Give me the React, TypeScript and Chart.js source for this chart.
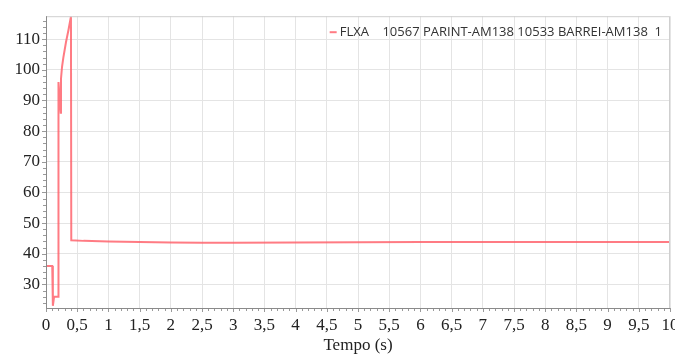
import React, { useEffect, useRef } from "react";
import { Chart, registerables } from "chart.js";

Chart.register(...registerables);

const seriesLabel = "FLXA    10567 PARINT-AM138 10533 BARREI-AM138  1";
const timeValues = [0, 0.1, 0.11, 0.13, 0.198, 0.2, 0.236, 0.24, 0.257, 0.278, 0.32, 0.36, 0.4, 0.405, 0.6, 1, 1.5, 2, 2.5, 3, 4, 5, 6, 7, 8, 9, 10];
const flowValues = [36, 36, 23, 26, 26, 96, 86, 97, 101, 104, 109, 113, 117.4, 44.4, 44.2, 44.0, 43.8, 43.7, 43.6, 43.6, 43.7, 43.75, 43.8, 43.8, 43.8, 43.8, 43.8];
const xTickStep = 0.5;
const yTickStep = 10;
const xRange = [0, 10];
const yRange = [22.3, 117.5];
const lineColor = "rgba(255, 90, 100, 0.8)";

const decorations = {
  id: "decorations",
  afterDraw(chart: any) {
    const { ctx, chartArea, scales } = chart;
    const x = scales.x;
    const y = scales.y;
    ctx.save();
    ctx.strokeStyle = "#cfcfcf";
    ctx.lineWidth = 1;
    ctx.strokeRect(chartArea.left + 0.5, chartArea.top + 0.5, chartArea.right - chartArea.left - 1, chartArea.bottom - chartArea.top);
    ctx.strokeStyle = "#9a9a9a";
    ctx.beginPath();
    for (let i = 0; i <= 100; i++) {
      const px = Math.round(x.getPixelForValue(i / 10)) + 0.5;
      ctx.moveTo(px, chartArea.bottom);
      ctx.lineTo(px, chartArea.bottom + (i % 5 === 0 ? 4 : 3));
    }
    for (let v = 24; v <= 116; v += 2) {
      const py = Math.round(y.getPixelForValue(v)) + 0.5;
      ctx.moveTo(chartArea.left, py);
      ctx.lineTo(chartArea.left - (v % 10 === 0 ? 4 : 3), py);
    }
    ctx.stroke();
    ctx.strokeStyle = "#8a8a8a";
    ctx.beginPath();
    ctx.moveTo(chartArea.left + 0.5, chartArea.top);
    ctx.lineTo(chartArea.left + 0.5, chartArea.bottom + 0.5);
    ctx.lineTo(chartArea.right, chartArea.bottom + 0.5);
    ctx.stroke();
    // legend
    const label = chart.data.datasets[0].label;
    ctx.font = "13px 'Open Sans'";
    const w = ctx.measureText(label).width;
    const textX = chartArea.right - 8 - w;
    const ly = chartArea.top + 16;
    ctx.strokeStyle = lineColor;
    ctx.lineWidth = 2;
    ctx.beginPath();
    ctx.moveTo(textX - 10, ly);
    ctx.lineTo(textX - 3, ly);
    ctx.stroke();
    ctx.fillStyle = "#333";
    ctx.textBaseline = "middle";
    ctx.textAlign = "left";
    ctx.fillText(label, textX, ly);
    ctx.restore();
  },
};

export default function App() {
  const ref = useRef<HTMLCanvasElement | null>(null);
  useEffect(() => {
    if (!ref.current) return;
    const points = timeValues.map((t, i) => ({ x: t, y: flowValues[i] }));
    const chart = new Chart(ref.current, {
      type: "line",
      data: {
        datasets: [
          {
            label: seriesLabel,
            data: points,
            borderColor: lineColor,
            backgroundColor: lineColor,
            borderWidth: 2,
            pointRadius: 0,
            tension: 0,
          },
        ],
      },
      plugins: [decorations],
      options: {
        animation: false,
        responsive: false,
        maintainAspectRatio: false,
        layout: { padding: { top: 14, right: 5, left: 0, bottom: 0 } },
        plugins: {
          legend: { display: false },
          tooltip: { enabled: false },
        },
        scales: {
          x: {
            type: "linear",
            min: xRange[0],
            max: xRange[1],
            afterFit: (s: any) => {
              s.height = 48;
              s.paddingRight = 0;
              s.paddingLeft = 0;
            },
            ticks: {
              stepSize: xTickStep,
              autoSkip: false,
              maxRotation: 0,
              padding: 7,
              color: "#222",
              font: { family: "Liberation Serif", size: 17 },
              callback: (v: any) => String(v).replace(".", ","),
            },
            grid: { color: "#e4e4e4", drawTicks: false },
            border: { display: false },
            title: {
              display: true,
              text: "Tempo (s)",
              color: "#222",
              padding: { top: 0, bottom: 0 },
              font: { family: "Liberation Serif", size: 17 },
            },
          },
          y: {
            type: "linear",
            min: yRange[0],
            max: yRange[1],
            afterFit: (s: any) => {
              s.width = 46;
            },
            ticks: {
              stepSize: yTickStep,
              includeBounds: false,
              padding: 6,
              color: "#222",
              font: { family: "Liberation Serif", size: 17 },
            },
            grid: { color: "#e4e4e4", drawTicks: false },
            border: { display: false },
          },
        },
      },
    });
    return () => chart.destroy();
  }, []);
  return (
    <div style={{ position: "fixed", left: 0, top: 0, width: 675, height: 356, background: "#fff" }}>
      <canvas ref={ref} width={675} height={356} style={{ width: 675, height: 356 }} />
    </div>
  );
}
